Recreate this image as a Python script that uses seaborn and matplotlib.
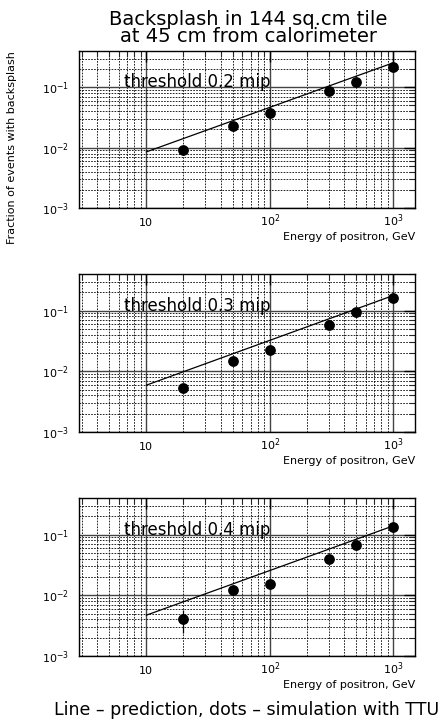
import numpy as np
import pandas as pd
import matplotlib
matplotlib.use("Agg")
import matplotlib.pyplot as plt
from matplotlib.ticker import LogLocator, NullFormatter, FixedLocator, FixedFormatter
import seaborn as sns

sns.set_style("white")
plt.rcParams['font.family'] = ['DejaVu Sans']

# ---- data ----
energies = [20, 50, 100, 300, 500, 1000]
sim_02 = [0.0093, 0.023, 0.038, 0.087, 0.123, 0.221]
sim_03 = [0.0053, 0.0145, 0.022, 0.0587, 0.095, 0.158]
sim_04 = [0.0041, 0.0121, 0.0151, 0.039, 0.067, 0.132]
pred_energies = [10, 1000]
pred_02 = [0.0085, 0.255]
pred_03 = [0.0059, 0.177]
pred_04 = [0.0047, 0.139]
thresholds = ["threshold 0.2 mip", "threshold 0.3 mip", "threshold 0.4 mip"]
err_energy = [20]
err_value = [0.0041]
err_size = [0.0017]

title = "Backsplash in 144 sq.cm tile\nat 45 cm from calorimeter"
xlabel = "Energy of positron, GeV"
ylabel = "Fraction of events with backsplash"
footer = "Line \u2013 prediction, dots \u2013 simulation with TTU"
xtick_vals = [10, 100, 1000]
xtick_labels = ["10", r"$10^{2}$", r"$10^{3}$"]
ytick_vals = [1e-3, 1e-2, 1e-1]
ytick_labels = [r"$10^{-3}$", r"$10^{-2}$", r"$10^{-1}$"]

fig = plt.figure(figsize=(4.44, 7.21), dpi=100)
W, H = 444, 721
panels = [(51, 208), (274, 432), (498, 656)]
left, right = 79, 415

sims = [sim_02, sim_03, sim_04]
preds = [pred_02, pred_03, pred_04]

for i, (top, bot) in enumerate(panels):
    ax = fig.add_axes([left / W, 1 - bot / H, (right - left) / W, (bot - top) / H])
    ax.set_xscale("log")
    ax.set_yscale("log")
    ax.set_xlim(2.85, 1500)
    ax.set_ylim(1e-3, 0.4)

    # grid
    ax.xaxis.set_minor_locator(LogLocator(base=10, subs=np.arange(2, 10)))
    ax.yaxis.set_minor_locator(LogLocator(base=10, subs=np.arange(2, 10)))
    ax.xaxis.set_minor_formatter(NullFormatter())
    ax.yaxis.set_minor_formatter(NullFormatter())
    ax.grid(True, which="major", color="#444444", lw=1.0, ls="-")
    ax.grid(True, which="minor", color="black", lw=0.6, ls=(0, (2, 1.5)))
    ax.set_axisbelow(True)

    df_pred = pd.DataFrame({"E": pred_energies, "f": preds[i]})
    sns.lineplot(data=df_pred, x="E", y="f", ax=ax, color="black", lw=0.9)
    df_sim = pd.DataFrame({"E": energies, "f": sims[i]})
    sns.scatterplot(data=df_sim, x="E", y="f", ax=ax, color="black", s=60,
                    edgecolor="black", linewidth=0, zorder=5)
    if i == 2:
        ax.errorbar(err_energy, err_value, yerr=err_size, fmt="none",
                    ecolor="black", lw=0.9, zorder=4)

    ax.text(0.134, 0.80, thresholds[i], transform=ax.transAxes, fontsize=12,
            ha="left", va="center", color="black")

    ax.xaxis.set_major_locator(FixedLocator(xtick_vals))
    ax.xaxis.set_major_formatter(FixedFormatter(xtick_labels))
    ax.yaxis.set_major_locator(FixedLocator(ytick_vals))
    ax.yaxis.set_major_formatter(FixedFormatter(ytick_labels))
    ax.tick_params(which="major", direction="in", length=8, width=1,
                   top=True, right=True, labelsize=8, pad=7, colors="black")
    ax.tick_params(which="minor", direction="in", length=4, width=0.8,
                   top=True, right=True)
    ax.tick_params(axis="x", which="major", pad=13)
    for lbl in ax.get_xticklabels():
        lbl.set_verticalalignment("baseline")
    ax.set_xlabel("")
    ax.set_ylabel("")
    for s in ax.spines.values():
        s.set_color("black")
        s.set_linewidth(1.0)
        s.set_visible(True)

    fig.text(right / W, 1 - (bot + 29) / H, xlabel, ha="right", va="center",
             fontsize=8, color="black")

fig.text(248 / W, 1 - 28 / H, title, ha="center", va="center", fontsize=14,
         linespacing=0.9, color="black")
fig.text(12 / W, 1 - 148 / H, ylabel, rotation=90, ha="center", va="center",
         fontsize=8, color="black")
fig.text(247 / W, 1 - 710 / H, footer, ha="center", va="center", fontsize=12.5,
         color="black")

fig.savefig("out.png", dpi=100)
